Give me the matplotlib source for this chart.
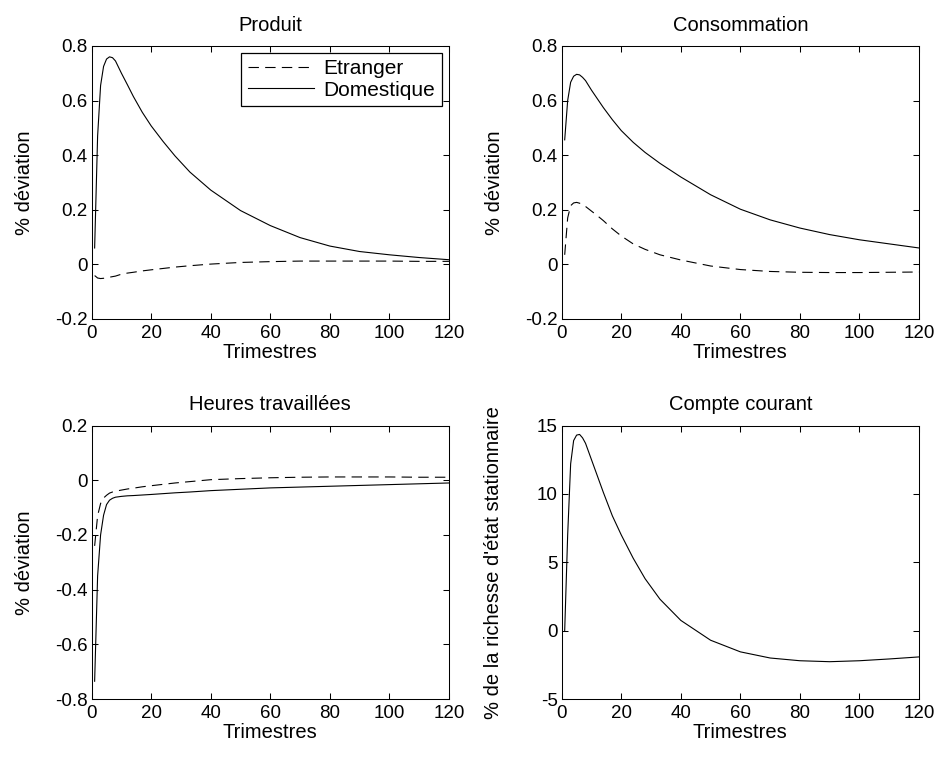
import numpy as np
import matplotlib
matplotlib.use("Agg")
import matplotlib.pyplot as plt

# trimestres auxquels les réponses sont lues
t = [1, 2, 3, 4, 5, 6, 7, 8, 10, 12, 14, 17, 20, 24, 28, 33, 40, 50, 60, 70, 80, 90, 100, 110, 120]

# Produit
prod_dom = [0.06, 0.47, 0.655, 0.725, 0.752, 0.76, 0.757, 0.745, 0.70, 0.658, 0.615, 0.557, 0.507,
            0.45, 0.397, 0.338, 0.272, 0.197, 0.142, 0.098, 0.067, 0.047, 0.035, 0.025, 0.017]
prod_etr = [-0.041, -0.05, -0.052, -0.051, -0.049, -0.047, -0.045, -0.043, -0.036, -0.032, -0.029,
            -0.024, -0.02, -0.015, -0.01, -0.005, 0.001, 0.007, 0.01, 0.012, 0.012, 0.012, 0.012, 0.011, 0.011]

# Consommation
cons_dom = [0.456, 0.60, 0.667, 0.689, 0.696, 0.694, 0.685, 0.673, 0.638, 0.606, 0.574, 0.53, 0.49,
            0.447, 0.41, 0.37, 0.32, 0.255, 0.202, 0.163, 0.133, 0.109, 0.09, 0.075, 0.06]
cons_etr = [0.035, 0.17, 0.215, 0.225, 0.227, 0.224, 0.219, 0.212, 0.195, 0.178, 0.16, 0.13, 0.104,
            0.075, 0.055, 0.035, 0.016, -0.006, -0.019, -0.026, -0.029, -0.030, -0.030, -0.029, -0.028]

# Heures travaillées
heur_dom = [-0.735, -0.35, -0.2, -0.128, -0.089, -0.073, -0.066, -0.062, -0.059, -0.057, -0.056,
            -0.054, -0.052, -0.049, -0.046, -0.043, -0.038, -0.033, -0.028, -0.025, -0.022, -0.019,
            -0.016, -0.013, -0.01]
heur_etr = [-0.24, -0.13, -0.085, -0.065, -0.055, -0.047, -0.043, -0.04, -0.036, -0.032, -0.029,
            -0.024, -0.02, -0.015, -0.01, -0.005, 0.002, 0.006, 0.009, 0.011, 0.012, 0.012, 0.012, 0.011, 0.011]

# Compte courant
cc_dom = [0.0, 7.0, 12.2, 13.9, 14.3, 14.35, 14.1, 13.7, 12.5, 11.3, 10.1, 8.4, 7.0,
          5.3, 3.8, 2.3, 0.75, -0.7, -1.55, -2.0, -2.2, -2.27, -2.2, -2.07, -1.92]

plt.rcParams['font.family'] = ['Liberation Sans', 'DejaVu Sans']
plt.rcParams['font.size'] = 13
plt.rcParams['lines.scale_dashes'] = False
plt.rcParams['axes.unicode_minus'] = False

fig = plt.figure(figsize=(9.42, 7.58), dpi=100)
pos = {
    'hg': [0.0973, 0.5792, 0.3793, 0.3602],
    'hd': [0.5963, 0.5792, 0.3793, 0.3602],
    'bg': [0.0973, 0.0778, 0.3793, 0.3608],
    'bd': [0.5963, 0.0778, 0.3793, 0.3608],
}
dash = (0, (7.5, 4.5))


def habille(ax, titre, ylab, ylim, yticks, lpad=15):
    ax.set_xlim(0, 120)
    ax.set_xticks(range(0, 121, 20))
    ax.set_ylim(*ylim)
    ax.set_yticks(yticks)
    ax.set_title(titre, fontsize=14.5, pad=11)
    ax.set_xlabel('Trimestres', fontsize=14.5, labelpad=1)
    ax.set_ylabel(ylab, fontsize=14.5, labelpad=lpad)
    ax.tick_params(direction='in', top=True, right=True, length=4, width=0.75, labelsize=13.5)
    ax.tick_params(axis='y', pad=3)
    ax.tick_params(axis='x', pad=4)
    for s in ax.spines.values():
        s.set_linewidth(0.75)


ax1 = fig.add_axes(pos['hg'])
ax1.plot(t, prod_etr, color='k', lw=0.8, linestyle=dash, label='Etranger')
ax1.plot(t, prod_dom, color='k', lw=0.8, label='Domestique')
habille(ax1, 'Produit', '% déviation', (-0.2, 0.8), [-0.2, 0, 0.2, 0.4, 0.6, 0.8])
ax1.set_yticklabels(['-0.2', '0', '0.2', '0.4', '0.6', '0.8'])
leg = ax1.legend(loc='upper right', fancybox=False, edgecolor='k', framealpha=1,
                 borderaxespad=0.35, handlelength=3.2, handletextpad=0.45,
                 labelspacing=0.1, borderpad=0.3, fontsize=15)
leg.get_frame().set_linewidth(0.9)

ax2 = fig.add_axes(pos['hd'])
ax2.plot(t, cons_etr, color='k', lw=0.8, linestyle=dash)
ax2.plot(t, cons_dom, color='k', lw=0.8)
habille(ax2, 'Consommation', '% déviation', (-0.2, 0.8), [-0.2, 0, 0.2, 0.4, 0.6, 0.8])
ax2.set_yticklabels(['-0.2', '0', '0.2', '0.4', '0.6', '0.8'])

ax3 = fig.add_axes(pos['bg'])
ax3.plot(t, heur_etr, color='k', lw=0.8, linestyle=dash)
ax3.plot(t, heur_dom, color='k', lw=0.8)
habille(ax3, 'Heures travaillées', '% déviation', (-0.8, 0.2), [-0.8, -0.6, -0.4, -0.2, 0, 0.2])
ax3.set_yticklabels(['-0.8', '-0.6', '-0.4', '-0.2', '0', '0.2'])

ax4 = fig.add_axes(pos['bd'])
ax4.plot(t, cc_dom, color='k', lw=0.8)
habille(ax4, 'Compte courant', "% de la richesse d'état stationnaire", (-5, 15), [-5, 0, 5, 10, 15],
        lpad=24)

fig.savefig('out.png', dpi=100)
